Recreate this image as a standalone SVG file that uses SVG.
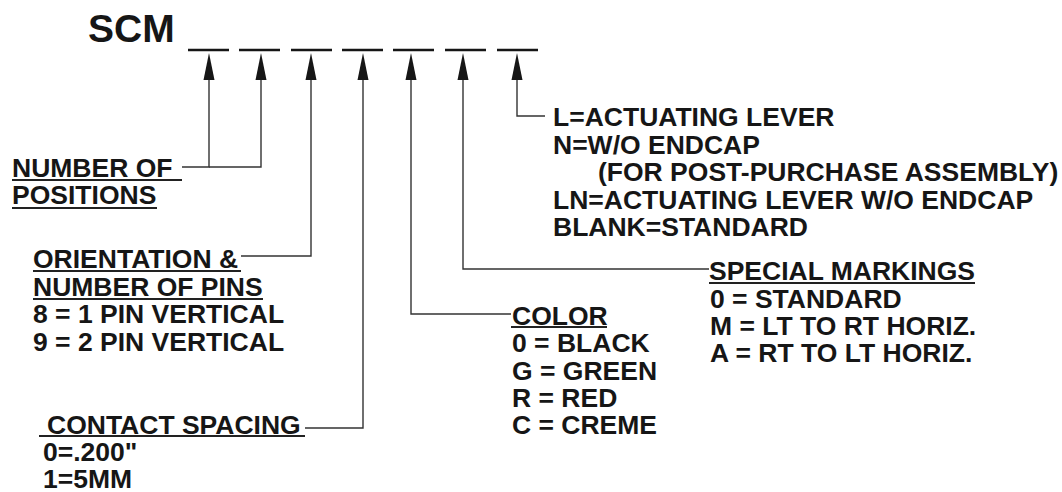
<svg xmlns="http://www.w3.org/2000/svg" width="1062" height="492" viewBox="0 0 1062 492">
<style>
text{font-family:"Liberation Sans",Arial,Helvetica,sans-serif;font-weight:bold;font-size:26.5px;fill:#161616}
.title{font-size:39px}
.dash{stroke:#161616;stroke-width:2.6;fill:none}
.conn{stroke:#333;stroke-width:1.4;fill:none}
.ul{stroke:#222;stroke-width:1.8;fill:none}
.ah{fill:#161616}
</style>
<defs>
<path id="ah" d="M0,0 L5.5,27 L-5.5,27 Z"/>
</defs>
<rect width="1062" height="492" fill="#ffffff"/>
<g id="title">
<text class="title" x="88" y="42">SCM</text>
<path class="dash" d="M188,50H229M239,50H280M291,50H332M342,50H383M393,50H434M445,50H486M497,50H538"/>
</g>
<g id="connectors">
<path class="conn" d="M209,78V167H182"/>
<path class="conn" d="M261,78V167H209"/>
<path class="conn" d="M311,78V256H241"/>
<path class="conn" d="M363,78V428H305"/>
<path class="conn" d="M411,78V314H511"/>
<path class="conn" d="M463,78V269H709"/>
<path class="conn" d="M517,78V116H545"/>
<use class="ah" href="#ah" x="209" y="53"/>
<use class="ah" href="#ah" x="261" y="53"/>
<use class="ah" href="#ah" x="311" y="53"/>
<use class="ah" href="#ah" x="363" y="53"/>
<use class="ah" href="#ah" x="411" y="53"/>
<use class="ah" href="#ah" x="463" y="53"/>
<use class="ah" href="#ah" x="517" y="53"/>
</g>
<g id="positions">
<text x="12" y="177">NUMBER OF</text>
<text x="12" y="204">POSITIONS</text>
<path class="ul" d="M12,180H182M12,208H157"/>
</g>
<g id="orientation">
<text x="33" y="268">ORIENTATION &amp;</text>
<text x="33" y="296">NUMBER OF PINS</text>
<text x="33" y="323">8 = 1 PIN VERTICAL</text>
<text x="33" y="351">9 = 2 PIN VERTICAL</text>
<path class="ul" d="M33,271H241M33,299H263"/>
</g>
<g id="contact-spacing">
<text x="47" y="434">CONTACT SPACING</text>
<text x="43" y="461">0=.200"</text>
<text x="43" y="488">1=5MM</text>
<path class="ul" d="M39,436H305"/>
</g>
<g id="color">
<text x="512" y="325">COLOR</text>
<text x="512" y="352">0 = BLACK</text>
<text x="512" y="380">G = GREEN</text>
<text x="512" y="407">R = RED</text>
<text x="512" y="434">C = CREME</text>
<path class="ul" d="M511,327H607"/>
</g>
<g id="special-markings">
<text x="709" y="280">SPECIAL MARKINGS</text>
<text x="710" y="308">0 = STANDARD</text>
<text x="710" y="335">M = LT TO RT HORIZ.</text>
<text x="710" y="362">A = RT TO LT HORIZ.</text>
<path class="ul" d="M709,283H975"/>
</g>
<g id="lever">
<text x="553" y="126">L=ACTUATING LEVER</text>
<text x="553" y="154">N=W/O ENDCAP</text>
<text x="598" y="181">(FOR POST-PURCHASE ASSEMBLY)</text>
<text x="553" y="209">LN=ACTUATING LEVER W/O ENDCAP</text>
<text x="553" y="236">BLANK=STANDARD</text>
</g>
</svg>
